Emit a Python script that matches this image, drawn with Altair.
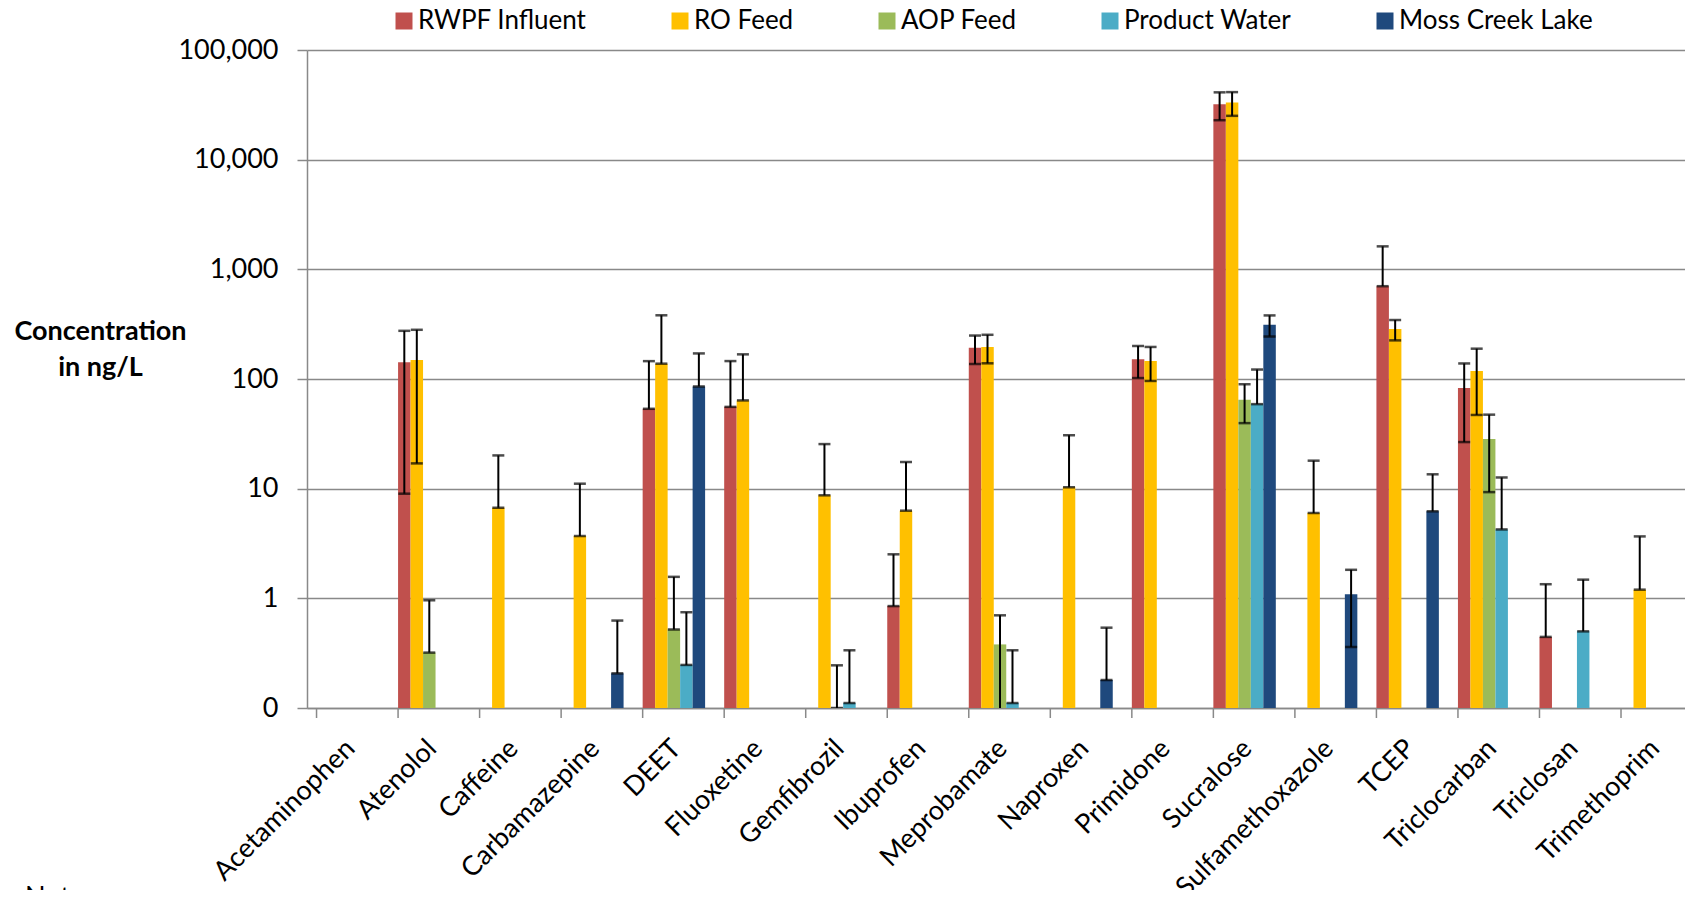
import altair as alt
import pandas as pd

categories = ["Acetaminophen", "Atenolol", "Caffeine", "Carbamazepine", "DEET", "Fluoxetine",
              "Gemfibrozil", "Ibuprofen", "Meprobamate", "Naproxen", "Primidone", "Sucralose",
              "Sulfamethoxazole", "TCEP", "Triclocarban", "Triclosan", "Trimethoprim"]
series_names = ["RWPF Influent", "RO Feed", "AOP Feed", "Product Water", "Moss Creek Lake"]
series_colors = ["#C0504D", "#FFC000", "#9BBB59", "#4BACC6", "#1F497D"]

# mean concentration (ng/L), None = not detected
rwpf_mean = [None, 142, None, None, 53.5, 55.7, None, 0.85, 193, None, 151, 32000, None, 702, 82.6, 0.445, None]
rwpf_sd   = [None, 133, None, None, 92, 90, None, 1.67, 56, None, 49, 9100, None, 918, 56, 0.9, None]
ro_mean   = [None, 149, 6.7, 3.7, 138, 63.8, 8.7, 6.3, 196, 10.3, 146, 33200, 6.0, 285, 118, None, 1.2]
ro_sd     = [None, 132, 13.4, 7.4, 243, 104, 16.8, 11.2, 57, 20.4, 50, 8100, 12, 60, 71, None, 2.47]
aop_mean  = [None, 0.32, None, None, 0.52, None, 0.1, None, 0.38, None, None, 64.6, None, None, 28.3, None, None]
aop_sd    = [None, 0.64, None, None, 1.05, None, 0.145, None, 0.32, None, None, 25, None, None, 19, None, None]
pw_mean   = [None, None, None, None, 0.247, None, 0.111, None, 0.111, None, None, 59, None, None, 4.25, 0.50, None]
pw_sd     = [None, None, None, None, 0.50, None, 0.225, None, 0.225, None, None, 63, None, None, 8.4, 0.98, None]
mcl_mean  = [None, None, None, 0.207, 85.5, None, None, None, None, 0.18, None, 312, 1.09, 6.22, None, None, None]
mcl_sd    = [None, None, None, 0.42, 85.6, None, None, None, None, 0.36, None, 68, 0.73, 7.3, None, None, None]

y_ticks = [0.1, 1, 10, 100, 1000, 10000, 100000]

means = [rwpf_mean, ro_mean, aop_mean, pw_mean, mcl_mean]
sds = [rwpf_sd, ro_sd, aop_sd, pw_sd, mcl_sd]
rows = []
for s, m_list, sd_list in zip(series_names, means, sds):
    for c, m, sd in zip(categories, m_list, sd_list):
        if m is None:
            continue
        lo = m - sd
        if lo <= 0:
            lo = m
        rows.append({"cat": c, "series": s, "value": m, "upper": m + sd, "lower": lo})
df = pd.DataFrame(rows)
cat_df = pd.DataFrame({"cat": categories})
note_df = pd.DataFrame({"t": ["Note"]})

W, H = 1378, 658
XR = 1386
FONT = "Lato"

x_scale = alt.Scale(domain=categories, paddingInner=0.234, paddingOuter=0.117, range=[0, XR])
x_axis = alt.Axis(title=None, labelAngle=-45, labelAlign="right", labelBaseline="middle",
                  labelFont=FONT, labelFontSize=27, labelColor="#000000", labelPadding=36,
                  labelOffset=3, ticks=False, domainColor="#898989", domainWidth=1.5, grid=False,
                  labelLimit=400)
xo = alt.XOffset("series:N", scale=alt.Scale(domain=series_names, paddingInner=0, paddingOuter=0),
                 sort=series_names)
y_scale = alt.Scale(type="log", domain=[0.1, 100000])
y_axis = alt.Axis(title=["Concentration", "in ng/L"], values=y_ticks,
                  labelExpr="datum.value < 1 ? '0' : format(datum.value, ',')",
                  labelFont=FONT, labelFontSize=27, labelColor="#000000", labelPadding=19,
                  tickSize=10, tickColor="#898989", tickWidth=1.5,
                  domainColor="#898989", domainWidth=1.5,
                  gridColor="#898989", gridWidth=1.5,
                  titleAngle=0, titleFont=FONT, titleFontSize=27, titleFontWeight="bold",
                  titleColor="#000000", titleAlign="center", titleBaseline="middle",
                  titleX=-207, titleY=281, titleLineHeight=36)

bars = alt.Chart(df).mark_bar(clip=True).encode(
    x=alt.X("cat:N", scale=x_scale, axis=x_axis, sort=categories),
    xOffset=xo,
    y=alt.Y("value:Q", scale=y_scale, axis=y_axis),
    y2=alt.datum(0.1),
    color=alt.Color("series:N", scale=alt.Scale(domain=series_names, range=series_colors),
                    sort=series_names,
                    legend=alt.Legend(title=None, orient="none", direction="horizontal",
                                      legendX=84, legendY=-42, columns=5, columnPadding=80,
                                      symbolType="square", symbolSize=289, symbolStrokeWidth=0,
                                      labelFont=FONT, labelFontSize=26, labelColor="#000000",
                                      labelOffset=1, labelLimit=400)),
)

err = alt.Chart(df).mark_rule(clip=True, color="#000000", strokeWidth=2).encode(
    x=alt.X("cat:N", scale=x_scale, axis=x_axis, sort=categories),
    xOffset=xo,
    y=alt.Y("lower:Q", scale=y_scale, axis=y_axis),
    y2="upper:Q",
)

cap_hi = alt.Chart(df).mark_tick(clip=True, color="#000000", thickness=2.5, size=12).encode(
    x=alt.X("cat:N", scale=x_scale, axis=x_axis, sort=categories),
    xOffset=xo,
    y=alt.Y("upper:Q", scale=y_scale, axis=y_axis),
)
cap_lo = alt.Chart(df).mark_tick(clip=True, color="#000000", thickness=2.5, size=12).encode(
    x=alt.X("cat:N", scale=x_scale, axis=x_axis, sort=categories),
    xOffset=xo,
    y=alt.Y("lower:Q", scale=y_scale, axis=y_axis),
)

xticks = alt.Chart(cat_df).mark_rule(color="#898989", strokeWidth=1.5).encode(
    x=alt.X("cat:N", scale=x_scale, axis=x_axis, sort=categories, bandPosition=0),
    y=alt.value(H),
    y2=alt.value(H + 10),
)

note = alt.Chart(note_df).mark_text(align="left", baseline="alphabetic", font=FONT,
                                    fontSize=27, color="#000000").encode(
    text="t:N", x=alt.value(-282), y=alt.value(H + 198),
)

chart = alt.layer(bars, err, cap_hi, cap_lo, xticks, note).properties(
    width=W, height=H,
    autosize=alt.AutoSizeParams(type="none"),
    padding={"left": 299, "top": 42, "right": 0, "bottom": 182},
).configure_view(strokeWidth=0)

chart.save("out.html", embed_options={"renderer": "svg", "actions": False})
